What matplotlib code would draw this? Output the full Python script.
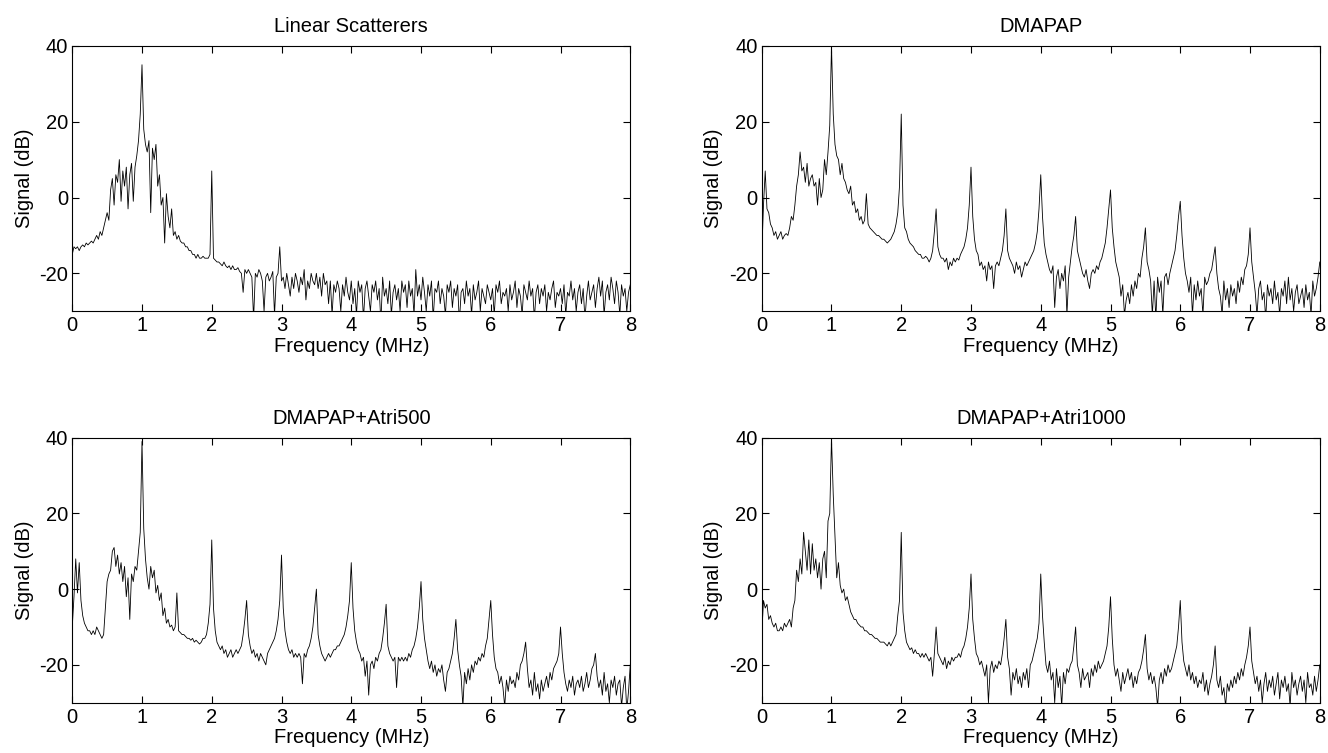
import matplotlib.pyplot as plt
import numpy as np

plt.rcParams['font.family'] = ['Liberation Sans', 'DejaVu Sans']
plt.rcParams['axes.unicode_minus'] = False

# Frequency grid (MHz), values at 0.025 MHz steps
freq = np.linspace(0, 8, 321)

titles = ['Linear Scatterers', 'DMAPAP', 'DMAPAP+Atri500', 'DMAPAP+Atri1000']

linear = [
    -15, -13, -13.5, -13, -14, -13, -12.5, -13, -12, -12.5,
    -12, -11.5, -12, -11, -10, -11, -9, -10, -8, -6,
    -4, -6, 2, 5, -2, 6, 4, 10, -1, 7,
    3, 8, -3, 6, 9, -1, 8, 11, 15, 22,
    35, 18, 14, 12, 15, -4, 13, 10, 14, 3,
    6, -2, 0, -12, 1, -5, -8, -3, -10, -9,
    -11, -10, -11.5, -12, -12, -13, -13, -14, -14, -15,
    -15, -16, -15, -16, -16, -15.5, -16, -16, -16, -15,
    7, -16, -16.5, -17, -17, -17.5, -18, -17, -18, -18.5,
    -18, -19, -18, -19, -19, -18.5, -19.5, -20, -25, -19,
    -20, -19, -20, -21, -32, -20, -21, -19, -20, -22,
    -30, -21, -20, -22, -21, -19.5, -31, -21, -20, -13,
    -22, -21, -24, -20, -23, -26, -21, -24, -20, -22,
    -25, -21, -23, -19, -27, -22, -24, -20, -22, -23,
    -20, -24, -21, -26, -20, -23, -22, -28, -22, -31,
    -23, -25, -22, -24, -30, -23, -26, -21, -25, -27,
    -22, -28, -24, -31, -22, -25, -23, -32, -24, -22,
    -26, -30, -23, -25, -22, -27, -24, -33, -21, -26,
    -24, -28, -22, -31, -25, -23, -27, -24, -30, -22,
    -25, -23, -29, -22, -26, -24, -31, -19, -26, -23,
    -27, -21, -25, -30, -23, -26, -22, -32, -24, -25,
    -22, -28, -24, -26, -31, -23, -25, -22, -29, -24,
    -26, -23, -33, -25, -24, -28, -22, -26, -24, -31,
    -23, -27, -25, -22, -30, -24, -26, -28, -23, -25,
    -27, -24, -31, -23, -25, -22, -28, -25, -26, -24,
    -30, -23, -27, -25, -22, -29, -24, -26, -31, -23,
    -25, -27, -22, -26, -24, -32, -25, -23, -28, -24,
    -26, -23, -30, -25, -27, -24, -22, -29, -25, -26,
    -24, -28, -23, -31, -25, -26, -22, -27, -24, -30,
    -25, -23, -28, -24, -32, -26, -22, -27, -25, -23,
    -29, -24, -21, -26, -22, -31, -25, -23, -27, -21,
    -24, -28, -22, -25, -31, -23, -26, -24, -30, -25,
    -23,
]

dmapap = [
    -15, -2, 7, -3, -4, -7, -8, -10, -9, -11,
    -10, -9, -11, -10, -9.5, -10, -8, -5, -6, -2,
    3, 6, 12, 7, 8, 4, 9, 3, 5, 6,
    3, 4, -2, 5, 0, 2, 10, 6, 12, 19,
    40, 22, 14, 11, 10, 6, 9, 5, 4, 2,
    1, 3, -2, -1, -4, -3, -6, -5, -7, -6,
    1, -7, -8, -8.5, -9, -9.5, -10, -10, -10.5, -11,
    -11, -11.5, -12, -11.5, -11, -10, -9, -7, -4, 3,
    22, -2, -8, -9, -11, -12, -12.5, -13, -14, -14.5,
    -15, -15, -16, -16, -15.5, -16, -17, -16, -14, -9,
    -3, -13, -15, -16, -16, -17, -16, -19, -17, -18,
    -16, -17, -16, -16.5, -15, -14, -13, -11, -8, -2,
    8, -5, -11, -14, -15, -18, -17, -19, -18, -22,
    -17, -19, -18, -24, -18, -17, -18, -16, -14, -10,
    -3, -14, -16, -17, -18, -20, -17, -19, -18, -21,
    -19, -17, -18, -17, -16, -15, -14, -12, -9, -3,
    6, -5, -12, -15, -17, -19, -20, -18, -29, -21,
    -19, -24, -20, -22, -18, -31, -21, -17, -13, -10,
    -5, -14, -16, -18, -20, -21, -19, -22, -24, -20,
    -19, -20, -18, -19, -17, -16, -14, -12, -8, -3,
    2, -8, -13, -17, -19, -21, -26, -23, -31, -27,
    -25, -28, -23, -26, -22, -24, -20, -21, -16, -13,
    -8, -17, -19, -22, -31, -22, -32, -21, -25, -22,
    -31, -21, -20, -23, -20, -18, -16, -14, -10, -5,
    -1, -10, -16, -20, -22, -25, -21, -31, -23, -27,
    -22, -26, -24, -31, -21, -23, -22, -20, -19, -16,
    -13, -20, -24, -26, -31, -22, -27, -24, -29, -23,
    -26, -24, -28, -22, -25, -21, -23, -19, -18, -15,
    -8, -17, -21, -25, -31, -24, -22, -27, -25, -32,
    -23, -26, -24, -28, -22, -27, -25, -31, -24, -26,
    -22, -28, -21, -27, -24, -30, -25, -23, -28, -26,
    -24, -29, -23, -27, -25, -31, -22, -26, -24, -21,
    -17,
]

atri500 = [
    -10, -2, 8, -1, 7, -3, -7, -9, -10, -11,
    -11, -12, -11, -12, -10, -11, -12, -13, -12, -5,
    2, 4, 5, 10, 11, 6, 9, 4, 7, 2,
    6, -2, 3, -8, 4, 2, 6, 5, 10, 15,
    39, 16, 8, 3, 0, 6, 3, 5, -1, 1,
    -3, -1, -7, -5, -9, -8, -10, -9.5, -11, -10,
    -1, -11, -11.5, -12, -12, -12.5, -13, -13, -13.5, -13,
    -14, -13.5, -14, -14.5, -14, -13, -13, -12, -9, -4,
    13, -5, -11, -14, -15, -16, -15, -17, -16, -18,
    -17, -16, -18, -17, -16, -17, -16, -15, -12, -8,
    -3, -12, -15, -17, -16, -18, -17, -19, -17, -18,
    -19, -20, -17, -16, -15, -14, -13, -11, -8, -3,
    9, -5, -11, -14, -16, -17, -16, -18, -17, -18,
    -17, -18, -25, -17, -18, -16, -15, -13, -10, -5,
    0, -12, -15, -17, -18, -19, -18, -17, -18, -17,
    -16, -16, -15, -15, -14, -13, -12, -10, -7, -3,
    7, -5, -11, -14, -16, -17, -19, -18, -23, -19,
    -28, -20, -19, -21, -18, -19, -17, -16, -13, -9,
    -4, -15, -17, -18, -19, -18, -26, -18, -19, -18,
    -19, -18, -19, -17, -18, -16, -15, -13, -10, -5,
    2, -8, -13, -16, -19, -21, -19, -22, -20, -23,
    -21, -22, -20, -24, -27, -22, -21, -19, -17, -13,
    -8, -16, -20, -23, -31, -22, -25, -21, -24, -20,
    -22, -19, -20, -18, -19, -17, -18, -15, -13, -8,
    -3, -12, -18, -21, -22, -25, -23, -26, -31, -24,
    -27, -23, -25, -24, -26, -22, -24, -20, -19, -17,
    -14, -21, -26, -24, -28, -22, -27, -25, -29, -24,
    -27, -25, -23, -26, -22, -24, -21, -20, -19, -17,
    -10, -17, -22, -25, -27, -24, -26, -23, -28, -25,
    -24, -26, -23, -27, -25, -22, -26, -24, -21, -20,
    -17, -23, -26, -24, -28, -22, -27, -25, -30, -24,
    -26, -23, -28, -25, -24, -31, -26, -23, -32, -27,
    -20,
]

atri1000 = [
    -12, -3, -5, -4, -8, -7, -9, -10, -9, -11,
    -11, -10, -11, -9, -10, -9, -8, -10, -5, -3,
    5, 2, 8, 4, 15, 10, 5, 13, 4, 12,
    5, 8, 3, 7, 0, 8, 10, 3, 18, 20,
    40, 25, 14, 3, 7, 1, -1, 0, -3, -2,
    -4, -6, -7, -8, -8, -9, -9.5, -10, -10, -11,
    -11, -11.5, -12, -12, -12.5, -13, -13, -13.5, -14, -14,
    -14, -14.5, -15, -14, -15, -14, -13, -12, -7, -3,
    15, -6, -11, -14, -15, -16, -15.5, -17, -16, -17,
    -17, -18, -17, -18, -17, -18, -19, -18, -23, -17,
    -10, -17, -18, -19, -20, -18, -21, -19, -20, -18,
    -19, -18, -18, -17, -18, -16, -15, -13, -10, -5,
    4, -8, -13, -17, -18, -20, -19, -21, -23, -20,
    -30, -21, -19, -22, -20, -21, -19, -20, -17, -13,
    -8, -18, -21, -28, -22, -24, -21, -25, -23, -26,
    -22, -24, -21, -26, -20, -19, -17, -15, -13, -9,
    4, -7, -14, -20, -22, -19, -24, -22, -30, -21,
    -26, -23, -31, -22, -25, -21, -22, -20, -19, -15,
    -10, -20, -22, -26, -21, -24, -23, -22, -26, -21,
    -23, -20, -22, -19, -21, -20, -19, -17, -15, -10,
    -2, -13, -20, -23, -21, -24, -27, -22, -25, -23,
    -21, -24, -22, -26, -23, -25, -22, -21, -19, -16,
    -12, -21, -24, -22, -25, -23, -26, -31, -24, -22,
    -25, -21, -23, -20, -22, -21, -19, -17, -15, -10,
    -3, -14, -19, -21, -23, -20, -24, -22, -25, -23,
    -26, -24, -25, -22, -27, -24, -28, -25, -23, -20,
    -15, -24, -26, -23, -28, -26, -31, -25, -27, -24,
    -26, -23, -25, -22, -24, -21, -23, -20, -18, -15,
    -10, -19, -22, -25, -23, -27, -24, -30, -25, -22,
    -27, -24, -26, -23, -28, -25, -22, -29, -24, -26,
    -23, -27, -25, -31, -22, -26, -24, -28, -25, -23,
    -27, -24, -30, -22, -26, -25, -28, -23, -27, -24,
    -20,
]

spectra = [linear, dmapap, atri500, atri1000]

fig = plt.figure(figsize=(13.28, 7.53), dpi=100)
positions = [
    [0.0544, 0.5866, 0.4202, 0.3526],
    [0.5736, 0.5866, 0.4202, 0.3526],
    [0.0544, 0.0668, 0.4202, 0.3519],
    [0.5736, 0.0668, 0.4202, 0.3519],
]

fs = 14.5
for pos, title, sig in zip(positions, titles, spectra):
    assert len(sig) == len(freq)
    ax = fig.add_axes(pos)
    ax.plot(freq, sig, color='black', linewidth=0.6)
    ax.set_xlim(0, 8)
    ax.set_ylim(-30, 40)
    ax.set_xticks(range(0, 9))
    ax.set_yticks([-20, 0, 20, 40])
    ax.tick_params(axis='both', direction='in', top=True, right=True,
                   labelsize=fs, length=5)
    ax.tick_params(axis='x', pad=3.5)
    ax.tick_params(axis='y', pad=3)
    for sp in ax.spines.values():
        sp.set_linewidth(0.8)
    ax.set_title(title, fontsize=fs, pad=10)
    ax.set_xlabel('Frequency (MHz)', fontsize=fs, labelpad=1)
    ax.set_ylabel('Signal (dB)', fontsize=fs, labelpad=4)

plt.savefig('out.png', dpi=100)
